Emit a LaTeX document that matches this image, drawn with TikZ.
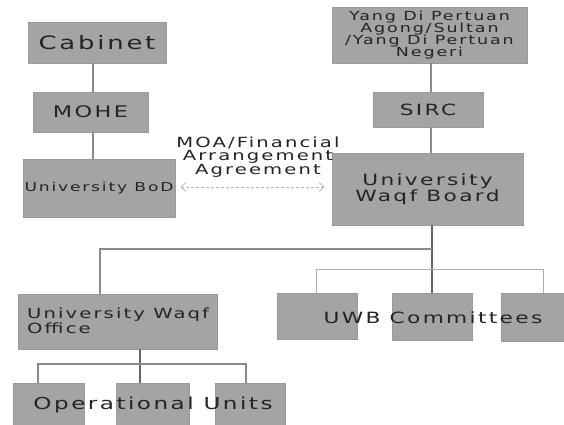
\documentclass[tikz,border=0pt]{standalone}
\usepackage{fontspec}
\usetikzlibrary{arrows.meta}
\newfontfamily\wide[FakeStretch=1.4,LetterSpace=15]{DejaVu Sans}
\definecolor{boxgray}{HTML}{A4A4A4}
\definecolor{boxedge}{HTML}{9A9A9A}
\definecolor{inkgray}{HTML}{242424}
\definecolor{linegray}{HTML}{8A8A8A}
\definecolor{dashgray}{HTML}{B8B8B8}
\newcommand{\fs}[2]{\fontsize{#1}{#2}\selectfont\wide}
\tikzset{
  orgbox/.style={rectangle, fill=boxgray, draw=boxedge, line width=0.6pt,
    inner sep=0pt, text=inkgray, align=center},
  bare/.style={inner sep=0pt, text=inkgray, align=center},
  link/.style={draw=linegray, line width=1.1pt},
  darklink/.style={draw=black!60, line width=1.1pt},
  dual/.style={draw=dashgray, line width=0.8pt, dashed, dash pattern=on 3pt off 2pt,
    {Straight Barb[length=5pt,width=9pt]}-{Straight Barb[length=5pt,width=9pt]}},
}
\begin{document}
\begin{tikzpicture}[x=1pt,y=-1pt]
\clip (0,0) rectangle (564,424);
\fill[white] (0,0) rectangle (564,424);

% government side
\node[orgbox, minimum width=138pt, minimum height=41pt, font=\fs{18.5}{20}] (cab) at (97,42.5) {Cabinet};
\node[orgbox, minimum width=115pt, minimum height=40pt, font=\fs{16}{18}] (mohe) at (90.5,112) {MOHE};
\node[orgbox, minimum width=152pt, minimum height=58pt, font=\fs{12.2}{13}] (bod) at (99,188) {University BoD};

% religious side
\node[orgbox, minimum width=195pt, minimum height=56pt, font=\fs{12.5}{12.1}] (yang) at (429.5,35)
  {Yang Di Pertuan\\Agong/Sultan\\/Yang Di Pertuan\\Negeri};
\node[orgbox, minimum width=110pt, minimum height=35pt, font=\fs{15.5}{17}] (sirc) at (428,109.5) {SIRC};
\node[orgbox, minimum width=191pt, minimum height=72pt, font=\fs{15.5}{15.5}] (uwb) at (427.5,189)
  {University\\Waqf Board};

% agreement between the boards
\node[bare, font=\fs{14}{13.5}] (moa) at (258,157) {MOA/Financial\\Arrangement\\Agreement};

% lower level boxes
\node[orgbox, minimum width=199pt, minimum height=55pt] (uwo) at (117.5,321.5) {};

\node[orgbox, minimum width=71pt, minimum height=47pt] (op1) at (48.5,406.5) {};
\node[orgbox, minimum width=73pt, minimum height=47pt] (op2) at (152.5,406.5) {};
\node[orgbox, minimum width=70pt, minimum height=47pt] (op3) at (250,406.5) {};

\node[orgbox, minimum width=80pt, minimum height=46pt] (com1) at (317,316) {};
\node[orgbox, minimum width=80pt, minimum height=47pt] (com2) at (432,316.5) {};
\node[orgbox, minimum width=69pt, minimum height=48pt] (com3) at (535.5,317) {};

% reporting lines, government side
\draw[link] ([xshift=-4pt]cab.south) -- ([xshift=-4pt]cab.south |- mohe.north);
\draw[link] ([xshift=-4pt]cab.south |- mohe.south) -- ([xshift=-4pt]cab.south |- bod.north);

% reporting lines, religious side
\draw[link] ([xshift=1.5pt]yang.south) -- ([xshift=1.5pt]yang.south |- sirc.north);
\draw[link] ([xshift=1.5pt]yang.south |- sirc.south) -- ([xshift=1.5pt]yang.south |- uwb.north);

% agreement arrow
\draw[dual] ([xshift=5pt]bod.east |- 0,187) -- ([xshift=-7pt]uwb.west |- 0,187);

% board to office and committees
\coordinate (trunk) at (com2.north |- 0,249);
\coordinate (uwoknee) at ([xshift=-17.5pt]uwo.north |- trunk);
\draw[darklink] (com2.north |- uwb.south) -- (com2.north);
\draw[link] (trunk) -- (uwoknee) -- ([xshift=-17.5pt]uwo.north);

\coordinate (combusL) at ([xshift=-1pt]com1.north |- 0,269);
\coordinate (combusR) at ([xshift=7.5pt]com3.north |- 0,269);
\draw[draw=linegray!70, line width=1pt] ([xshift=-1pt]com1.north) -- (combusL) -- (combusR) -- ([xshift=7.5pt]com3.north);

% office to operational units
\coordinate (opbusL) at ([xshift=-10.5pt]op1.north |- 0,364);
\coordinate (opbusR) at ([xshift=-4pt]op3.north |- 0,364);
\draw[darklink] ([xshift=-12.5pt]op2.north |- uwo.south) -- ([xshift=-12.5pt]op2.north);
\draw[link] ([xshift=-10.5pt]op1.north) -- (opbusL) -- (opbusR) -- ([xshift=-4pt]op3.north);

% labels laid over the boxes
\node[bare, anchor=west, align=left, font=\fs{14}{13.5}] (uwotext) at (27,320.5) {University Waqf\\Office};
\node[bare, font=\fs{16.5}{18}] (optext) at (153,405) {Operational Units};
\node[bare, font=\fs{15.5}{16}] (comtext) at (433,318) {UWB Committees};
\end{tikzpicture}
\end{document}
